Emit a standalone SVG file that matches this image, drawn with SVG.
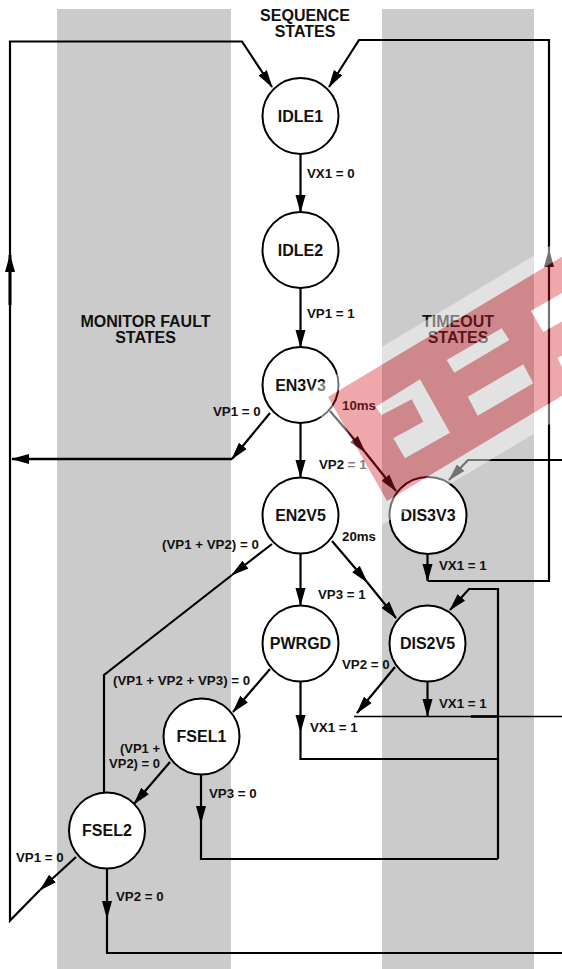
<svg xmlns="http://www.w3.org/2000/svg" width="562" height="969" viewBox="0 0 562 969">
<style>
.band{fill:#cbcbcb}
.c{fill:none;stroke:#000;stroke-width:2.2}
.a{marker-end:url(#arrow)}
.n{fill:#fff;stroke:#000;stroke-width:2}
text{font-family:"Liberation Sans",Arial,sans-serif;font-weight:700;fill:#111}
.s{font-size:16px;text-anchor:middle}
.h{font-size:16px;text-anchor:middle}
.l{font-size:13.3px}
.r{font-size:13.3px;text-anchor:end}
</style>
<defs>
<marker id="arrow" markerUnits="userSpaceOnUse" markerWidth="19" markerHeight="12" refX="17" refY="5.5" orient="auto"><path d="M0,0.5L18,5.5L0,10.5z" fill="#000"/></marker>
</defs>
<rect width="562" height="969" fill="#fff"/>
<rect class="band" x="57" y="9" width="174" height="960"/>
<rect class="band" x="382" y="9" width="152" height="960"/>
<g id="headings">
<text class="h" x="305" y="21">SEQUENCE</text>
<text class="h" x="305" y="36.5">STATES</text>
<text class="h" x="145.5" y="326.5">MONITOR FAULT</text>
<text class="h" x="145.5" y="343">STATES</text>
<text class="h" x="458" y="327">TIMEOUT</text>
<text class="h" x="458" y="343">STATES</text>
</g>
<g id="connectors">
<path class="c" d="M10,270V920.5L40,890"/>
<path class="c a" d="M10,305V255" style="stroke-width:3"/>
<path class="c a" d="M10,255V41.5H242L272,87"/>
<path class="c" d="M549,270V581H428"/>
<path class="c a" d="M549,270V250"/>
<path class="c a" d="M549,250V40H359L329,87"/>
<path class="c a" d="M300.5,154V212"/>
<path class="c a" d="M300.5,288V347"/>
<path class="c a" d="M300.5,423V477"/>
<path class="c a" d="M300.5,554V605"/>
<path class="c a" d="M270,413L232,459"/>
<path class="c a" d="M232,459H12" style="stroke-width:2.6"/>
<path class="c a" d="M330,411L365,452"/>
<path class="c a" d="M365,452L396,491"/>
<path class="c a" d="M332,541L367,582"/>
<path class="c a" d="M367,582L396,618"/>
<path class="c a" d="M272,544L232,575"/>
<path class="c" d="M232,575L104,675V792"/>
<path class="c a" d="M270,669L233,712"/>
<path class="c a" d="M300.5,682V732"/>
<path class="c" d="M300.5,732V759H498"/>
<path class="c a" d="M427.5,554V581"/>
<path class="c a" d="M395,667L357,713"/>
<path class="c a" d="M427.5,682V716"/>
<path class="c" d="M354,716.5H562" style="stroke-width:1.5"/>
<path class="c" d="M471,716.5H498" style="stroke-width:2.6"/>
<path class="c a" d="M498,859V589H469L450,610"/>
<path class="c" d="M498,859H201V823"/>
<path class="c a" d="M201,775V823"/>
<path class="c a" d="M170,762L134,804"/>
<path class="c a" d="M76,857L40,890"/>
<path class="c a" d="M107,869V918"/>
<path class="c" d="M107,918V953H562"/>
<path class="c a" d="M562,460H468L449,480"/>
</g>
<g id="IDLE1"><circle class="n" cx="300.5" cy="116" r="38"/><text class="s" x="300.5" y="121.5">IDLE1</text></g>
<g id="IDLE2"><circle class="n" cx="300.5" cy="250" r="38"/><text class="s" x="300.5" y="255.5">IDLE2</text></g>
<g id="EN3V3"><circle class="n" cx="300.5" cy="385" r="38"/><text class="s" x="300.5" y="390.5">EN3V3</text></g>
<g id="EN2V5"><circle class="n" cx="300.5" cy="515.5" r="38"/><text class="s" x="300.5" y="521">EN2V5</text></g>
<g id="PWRGD"><circle class="n" cx="300.5" cy="643.5" r="38"/><text class="s" x="300.5" y="649">PWRGD</text></g>
<g id="DIS3V3"><circle class="n" cx="428" cy="515.5" r="38.5"/><text class="s" x="428" y="521">DIS3V3</text></g>
<g id="DIS2V5"><circle class="n" cx="427.5" cy="643.5" r="38"/><text class="s" x="427.5" y="649">DIS2V5</text></g>
<g id="FSEL1"><circle class="n" cx="201.5" cy="736.5" r="38"/><text class="s" x="201.5" y="742">FSEL1</text></g>
<g id="FSEL2"><circle class="n" cx="107" cy="830.5" r="38"/><text class="s" x="107" y="836">FSEL2</text></g>
<g id="labels">
<text class="l" x="307" y="178">VX1 = 0</text>
<text class="l" x="307" y="318">VP1 = 1</text>
<text class="l" x="213" y="416">VP1 = 0</text>
<text class="l" x="342" y="410">10ms</text>
<text class="l" x="319" y="469">VP2 = 1</text>
<text class="l" x="342" y="541">20ms</text>
<text class="l" x="162" y="549">(VP1 + VP2) = 0</text>
<text class="l" x="318" y="599">VP3 = 1</text>
<text class="l" x="113" y="685">(VP1 + VP2 + VP3) = 0</text>
<text class="l" x="342" y="669">VP2 = 0</text>
<text class="l" x="439" y="570">VX1 = 1</text>
<text class="l" x="439" y="708">VX1 = 1</text>
<text class="l" x="310" y="732">VX1 = 1</text>
<text class="r" x="160" y="753" style="font-size:13px">(VP1 +</text>
<text class="r" x="160" y="768" style="font-size:13px">VP2) = 0</text>
<text class="l" x="209" y="798">VP3 = 0</text>
<text class="l" x="16" y="862">VP1 = 0</text>
<text class="l" x="116" y="901">VP2 = 0</text>
</g>
<g id="watermark" fill-rule="evenodd">
<path fill="#fff" fill-opacity=".45" d="M306.9,392.1L600,216V394L382.1,524.9ZM328,397L600,234V373L387,501ZM375.7,406.7L420,379.3L450,432.7L405,458.3L393.3,438.3L423.3,421.7L411.7,399.3L381.7,415ZM446.7,360L501.7,328.3L509.3,340L454.3,372.7ZM467.7,396.7L523.3,364.3L533.3,383.3L477.7,415.7ZM530.7,311L562,293V321.5L543.3,332ZM557.5,358L562,355.5V367Z"/>
<path fill="#d21a24" fill-opacity=".38" d="M328,397L600,234V373L387,501ZM375.7,406.7L420,379.3L450,432.7L405,458.3L393.3,438.3L423.3,421.7L411.7,399.3L381.7,415ZM446.7,360L501.7,328.3L509.3,340L454.3,372.7ZM467.7,396.7L523.3,364.3L533.3,383.3L477.7,415.7ZM530.7,311L562,293V321.5L543.3,332ZM557.5,358L562,355.5V367Z"/>
</g>
</svg>
